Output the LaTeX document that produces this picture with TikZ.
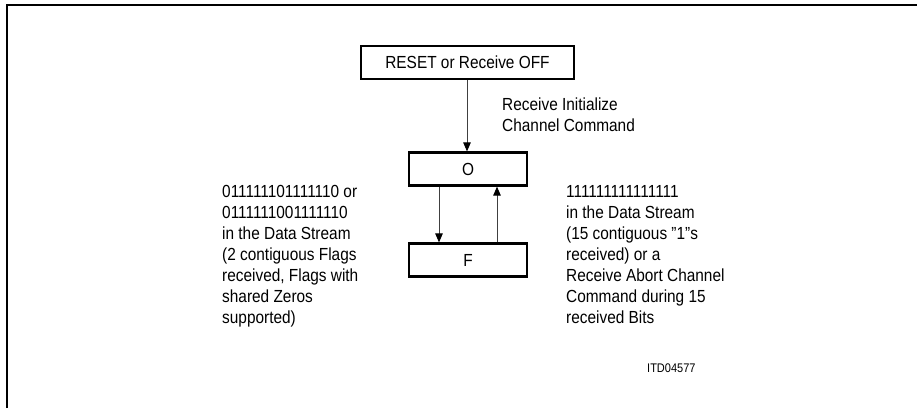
\documentclass[tikz,border=0pt]{standalone}
\usepackage{fontspec}
\setmainfont{Liberation Sans}[FakeStretch=0.88]
\usetikzlibrary{arrows.meta}
\tikzset{
  statebox/.style={draw=black, line width=2.2pt, minimum height=33pt, inner sep=0pt,
    font=\fontsize{17.5}{21.1}\selectfont},
  conn/.style={draw=black!75, line width=1pt, -{Triangle[length=9pt,width=7.5pt,black]}},
  lbl/.style={anchor=base west, align=left, inner sep=0pt, font=\fontsize{17.5}{21.1}\selectfont},
}
\begin{document}
\begin{tikzpicture}[x=1pt,y=-1pt]
\useasboundingbox (0,0) rectangle (917,408);
\coordinate (fb) at (7,408);
\coordinate (fc) at (7,5);
\coordinate (fr) at (917,5);
\draw[line width=1.8pt] (fb) -- (fc) -- (fr);

\node[statebox, minimum width=213pt] (reset) at (467.5,62.5) {RESET or Receive OFF};
\node[statebox, minimum width=118pt] (o) at (468,169) {O};
\node[statebox, minimum width=118pt] (f) at (468,260) {F};

\draw[conn] (reset.south -| 467,0) -- (o.north -| 467,0);
\draw[conn] (o.south -| 439,0) -- (f.north -| 439,0);
\draw[conn] (f.north -| 497,0) -- (o.south -| 497,0);

% anchor base = baseline of the last line
\node[lbl] (l1) at (502,131.1) {Receive Initialize\\Channel Command};
\node[lbl] (l2) at (222,323.6) {011111101111110 or\\0111111001111110\\in the Data Stream\\(2 contiguous Flags\\received, Flags with\\shared Zeros\\supported)};
\node[lbl] (l3) at (566,323.6) {111111111111111\\in the Data Stream\\(15 contiguous "1"s\\received) or a\\Receive Abort Channel\\Command during 15\\received Bits};
\node[anchor=base west, inner sep=0pt, font=\fontsize{12.5}{15}\selectfont] (id) at (647,372) {ITD04577};
\end{tikzpicture}
\end{document}
